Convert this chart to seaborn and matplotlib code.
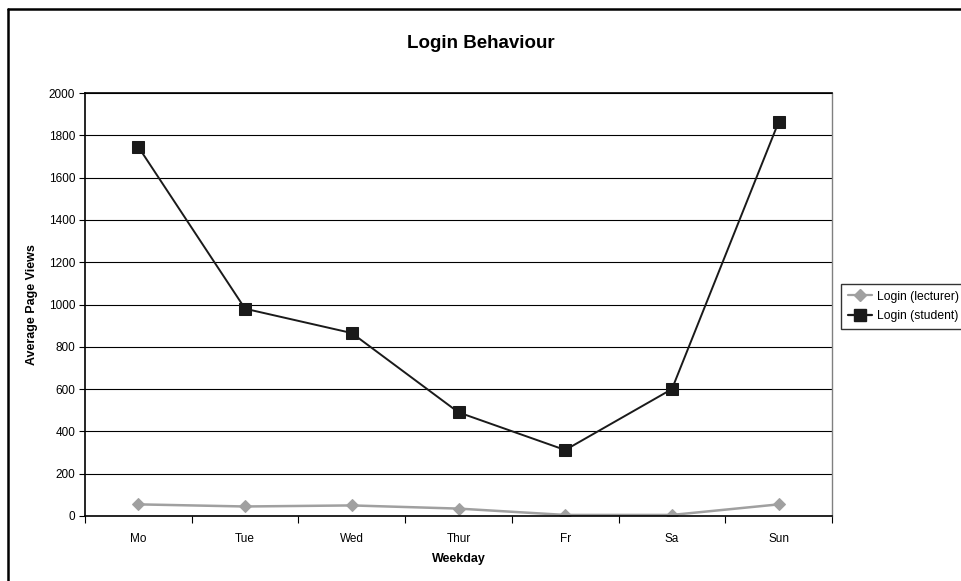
import matplotlib
matplotlib.use("Agg")
import matplotlib.pyplot as plt
import seaborn as sns
import pandas as pd
from matplotlib.lines import Line2D

weekdays = ["Mo", "Tue", "Wed", "Thur", "Fr", "Sa", "Sun"]
lecturer = [55, 45, 50, 35, 5, 5, 55]
student = [1745, 980, 865, 490, 312, 600, 1863]
series_names = ["Login (lecturer)", "Login (student)"]

sns.set_theme(style="white")
plt.rcParams["font.family"] = ["Liberation Sans", "DejaVu Sans"]
plt.rcParams["text.color"] = "black"
plt.rcParams["axes.labelcolor"] = "black"
plt.rcParams["xtick.color"] = "black"
plt.rcParams["ytick.color"] = "black"

df = pd.DataFrame({
    "Weekday": weekdays * 2,
    "Views": lecturer + student,
    "Series": [series_names[0]] * 7 + [series_names[1]] * 7,
})
df["x"] = list(range(7)) * 2

fig = plt.figure(figsize=(9.61, 5.81), dpi=100)
ax = fig.add_axes([85 / 961, 65 / 581, (832 - 85) / 961, (516 - 93) / 581])

palette = {series_names[0]: "#a0a0a0", series_names[1]: "#1a1a1a"}
markers = {series_names[0]: "D", series_names[1]: "s"}
for name in series_names:
    sub = df[df["Series"] == name]
    sns.lineplot(data=sub, x="x", y="Views", ax=ax, color=palette[name],
                 marker=markers[name], markersize=6 if name == series_names[0] else 8,
                 markeredgecolor=palette[name], linewidth=1.4 if name == series_names[1] else 1.8,
                 legend=False)

ax.set_xlim(-0.5, 6.5)
ax.set_ylim(0, 2000)
ax.set_yticks(range(0, 2001, 200))
ax.set_xticks(range(7))
ax.set_xticklabels(weekdays)
ax.set_xticks([i - 0.5 for i in range(8)], minor=True)
ax.tick_params(axis="x", which="major", length=0, pad=12, labelsize=8.5)
ax.tick_params(axis="x", which="minor", length=5, width=0.8, direction="out", color="black", bottom=True)
ax.tick_params(axis="y", length=4, width=0.8, direction="out", color="black", left=True, labelsize=8.5, pad=3)
ax.yaxis.grid(True, color="black", linewidth=0.8)
ax.set_axisbelow(True)
for s in ["left", "bottom", "top"]:
    ax.spines[s].set_color("black")
    ax.spines[s].set_linewidth(1.2)
ax.spines["right"].set_color("#808080")
ax.spines["right"].set_linewidth(1.0)

ax.set_xlabel("Weekday", fontsize=9, fontweight="bold", labelpad=6)
ax.set_ylabel("Average Page Views", fontsize=9, fontweight="bold", labelpad=8)
fig.text(0.5, 1 - 44 / 581, "Login Behaviour", ha="center", va="center",
         fontsize=13.5, fontweight="bold")

handles = [Line2D([0], [0], color=palette[n], marker=markers[n],
                  markersize=6 if n == series_names[0] else 8, linewidth=1.6) for n in series_names]
leg = fig.legend(handles, series_names, loc="upper left",
                 bbox_to_anchor=(841 / 961, 1 - 284 / 581), fontsize=8.7,
                 frameon=True, fancybox=False, edgecolor="black", borderpad=0.55,
                 handlelength=2.0, handletextpad=0.4, labelspacing=0.6, borderaxespad=0)
leg.get_frame().set_linewidth(1.0)

# figure frame
fig.add_artist(Line2D([8 / 961, 8 / 961], [0, 1 - 9 / 581], transform=fig.transFigure,
                      color="black", linewidth=1.8))
fig.add_artist(Line2D([8 / 961, 1], [1 - 9 / 581, 1 - 9 / 581], transform=fig.transFigure,
                      color="black", linewidth=1.8))

fig.savefig("out.png", dpi=100)
